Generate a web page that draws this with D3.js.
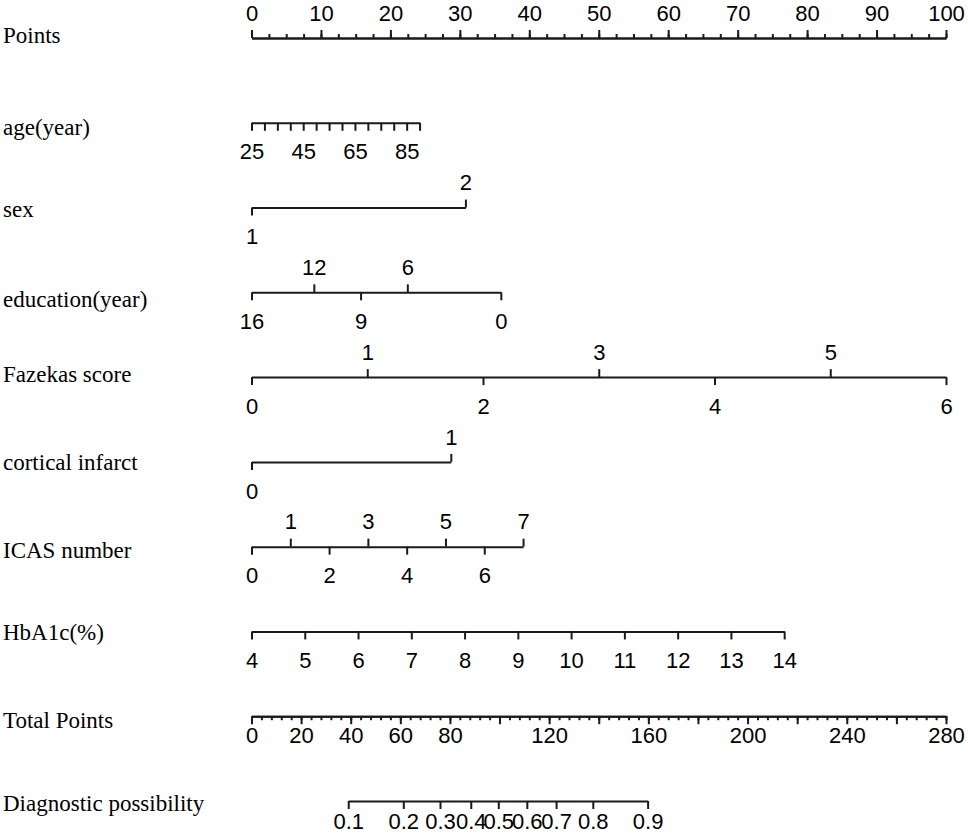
<!DOCTYPE html>
<html>
<head>
<meta charset="utf-8">
<script src="https://cdn.jsdelivr.net/npm/d3@7"></script>
<style>
  body { margin: 0; background: #fff; }
  .lab { font-family: "Liberation Serif", "Times New Roman", serif; font-size: 23px; fill: #000; }
  .tick text { font-family: "Liberation Sans", Arial, sans-serif; font-size: 22px; fill: #000; }
  .tick line, .domain { stroke: #1a1a1a; stroke-width: 2; }
</style>
</head>
<body>
<svg id="nomo" width="968" height="840"></svg>
<script>
// values
const rowNames = ["Points", "age(year)", "sex", "education(year)", "Fazekas score",
                  "cortical infarct", "ICAS number", "HbA1c(%)", "Total Points", "Diagnostic possibility"];

const pointLabels = [0, 10, 20, 30, 40, 50, 60, 70, 80, 90, 100];

const ageTicks = [25, 30, 35, 40, 45, 50, 55, 60, 65, 70, 75, 80, 85, 90];
const ageLabels = [25, 45, 65, 85];
const agePoints = [0, 24.2];

const sexValues = [1, 2];
const sexAbove = [2];
const sexBelow = [1];
const sexPoints = [0, 30.8];

const eduValues = [16, 0];
const eduAbove = [12, 6];
const eduBelow = [16, 9, 0];
const eduPoints = [0, 35.9];

const fazekasValues = [0, 6];
const fazekasAbove = [1, 3, 5];
const fazekasBelow = [0, 2, 4, 6];
const fazekasPoints = [0, 100];

const corticalValues = [0, 1];
const corticalAbove = [1];
const corticalBelow = [0];
const corticalPoints = [0, 28.7];

const icasValues = [0, 7];
const icasAbove = [1, 3, 5, 7];
const icasBelow = [0, 2, 4, 6];
const icasPoints = [0, 39.1];

const hbValues = [4, 14];
const hbTicks = [4, 5, 6, 7, 8, 9, 10, 11, 12, 13, 14];
const hbPoints = [0, 76.7];

const totalMax = 280;
const totalLabels = [0, 20, 40, 60, 80, 120, 160, 200, 240, 280];

const diagProbs = [0.1, 0.2, 0.3, 0.4, 0.5, 0.6, 0.7, 0.8, 0.9];
const diagTotals = [39.0, 61.2, 76.0, 88.4, 99.5, 111.0, 122.8, 137.6, 159.7];

// layout
const svg = d3.select("#nomo");
const xPts = d3.scaleLinear().domain([0, 100]).range([251.5, 946]);
const xTot = d3.scaleLinear().domain([0, totalMax]).range([251.5, 946]);
const rowY = d3.scaleLinear().domain([0, 9]).range([38, 801]);
const labelDy = [-3, 4, 1, 7, -3, 0, 3, 1, 4, 2];
const aboveOff = -25, belowOff = 29;
const plain = d => String(d);

// row titles on the left
svg.selectAll("text.lab").data(rowNames).enter()
    .append("text")
    .attr("class", "lab")
    .attr("x", 3)
    .attr("y", (d, i) => rowY(i) + labelDy[i])
    .attr("dy", "0.35em")
    .text(d => d);

function rowG(i) {
    return svg.append("g").attr("transform", "translate(0," + rowY(i) + ")");
}

// draws one predictor: labels alternate above / below the line
function varRow(i, values, pts, above, below) {
    let scale = d3.scaleLinear().domain(values).range(pts.map(xPts));
    let g = rowG(i);
    let gb = g.append("g").call(d3.axisBottom(scale).tickValues(below).tickSize(8).tickSizeOuter(0).tickFormat(plain));
    gb.selectAll(".tick text").attr("y", belowOff).attr("dy", "0.35em");
    if (above.length) {
        let ga = g.append("g").call(d3.axisTop(scale).tickValues(above).tickSize(8).tickSizeOuter(0).tickFormat(plain));
        ga.select(".domain").remove();
        ga.selectAll(".tick text").attr("y", aboveOff).attr("dy", "0.35em");
    }
    return gb;
}

// Points
let gp = rowG(0);
gp.append("g").call(d3.axisTop(xPts).tickValues(d3.range(0, 100.1, 2.5)).tickSize(4).tickSizeOuter(0).tickFormat(""));
let gpm = gp.append("g").call(d3.axisTop(xPts).tickValues(pointLabels).tickSize(8).tickSizeOuter(0).tickFormat(plain));
gpm.selectAll(".tick text").attr("y", aboveOff).attr("dy", "0.35em");

// age: only every fourth tick labelled
let ageScale = d3.scaleLinear().domain([ageTicks[0], ageTicks[ageTicks.length - 1]]).range(agePoints.map(xPts));
let ga = rowG(1).call(d3.axisBottom(ageScale).tickValues(ageTicks).tickSize(8).tickSizeOuter(0)
    .tickFormat(d => ageLabels.includes(d) ? d : ""));
ga.selectAll(".tick text").attr("y", belowOff).attr("dy", "0.35em");

varRow(2, sexValues, sexPoints, sexAbove, sexBelow);
varRow(3, eduValues, eduPoints, eduAbove, eduBelow);
varRow(4, fazekasValues, fazekasPoints, fazekasAbove, fazekasBelow);
varRow(5, corticalValues, corticalPoints, corticalAbove, corticalBelow);
varRow(6, icasValues, icasPoints, icasAbove, icasBelow);
varRow(7, hbValues, hbPoints, [], hbTicks);

// Total Points
let gt = rowG(8);
gt.append("g").call(d3.axisBottom(xTot).tickValues(d3.range(0, totalMax + 1, 4)).tickSize(4).tickSizeOuter(0).tickFormat(""));
let gtm = gt.append("g").call(d3.axisBottom(xTot).tickValues(d3.range(0, totalMax + 1, 20)).tickSize(8).tickSizeOuter(0)
    .tickFormat(d => totalLabels.includes(d) ? d : ""));
gtm.selectAll(".tick text").attr("y", 19).attr("dy", "0.35em");

// Diagnostic possibility, placed on the total points scale
let diagScale = d3.scaleLinear().domain(diagProbs).range(diagTotals.map(xTot));
let gd = rowG(9).call(d3.axisBottom(diagScale).tickValues(diagProbs).tickSize(8).tickSizeOuter(0).tickFormat(plain));
gd.selectAll(".tick text").attr("y", 20).attr("dy", "0.35em");
</script>
</body>
</html>
